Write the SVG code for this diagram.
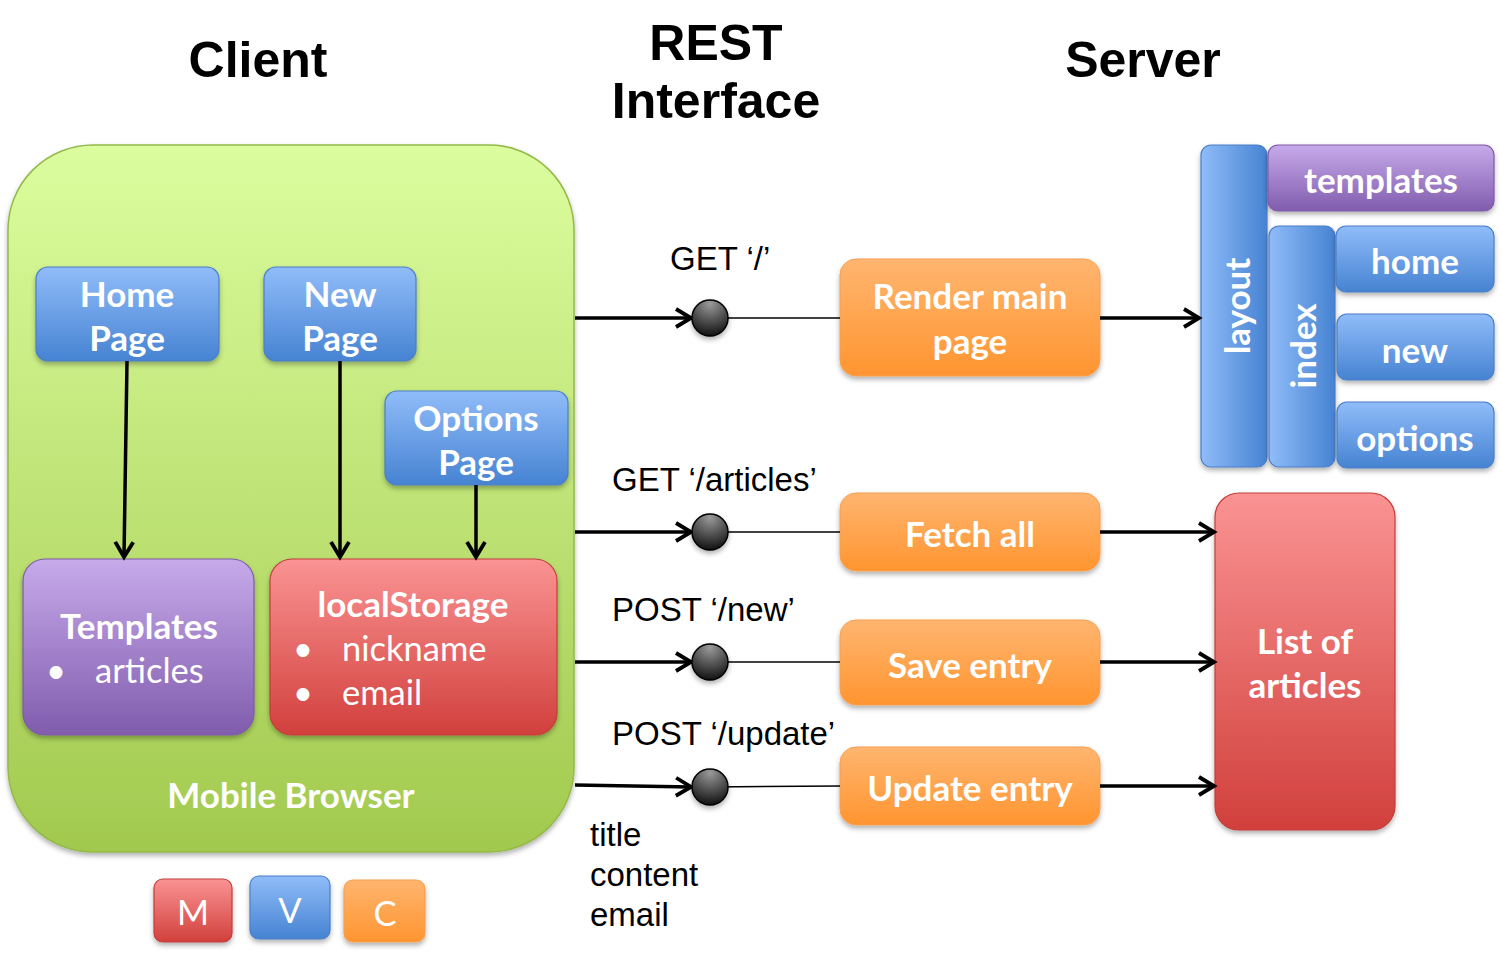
<svg xmlns="http://www.w3.org/2000/svg" width="1502" height="954" viewBox="0 0 1502 954">
<style>
.title{font-family:"Liberation Sans",Arial,sans-serif;font-weight:bold;font-size:50px;fill:#000;text-anchor:middle}
.lbl{font-family:Lato,"Open Sans",sans-serif;font-weight:bold;fill:#fff;text-anchor:middle;font-size:35px}
.reg{font-family:Lato,"Open Sans",sans-serif;fill:#fff;font-size:34.5px}
.rest{font-family:"Liberation Sans",Arial,sans-serif;font-size:33px;fill:#000}
.box{filter:url(#sh)}
.conn{stroke:#000;stroke-width:3.5;fill:none;marker-end:url(#ah)}
.thin{stroke:#000;stroke-width:1.5;fill:none}
</style>
<defs>
<filter id="sh" x="-20%" y="-20%" width="140%" height="150%"><feDropShadow dx="0" dy="3" stdDeviation="2.5" flood-color="#000" flood-opacity="0.3"/></filter>
<linearGradient id="gGreen" x1="0" y1="0" x2="0" y2="1"><stop offset="0" stop-color="#dcfd9e"/><stop offset="1" stop-color="#a2c94e"/></linearGradient>
<linearGradient id="gBlue" x1="0" y1="0" x2="0" y2="1"><stop offset="0" stop-color="#90bcf9"/><stop offset="1" stop-color="#4683d2"/></linearGradient>
<linearGradient id="gBlueH" x1="0" y1="0" x2="1" y2="0"><stop offset="0" stop-color="#90bcf9"/><stop offset="1" stop-color="#4683d2"/></linearGradient>
<linearGradient id="gPurple" x1="0" y1="0" x2="0" y2="1"><stop offset="0" stop-color="#c6aaea"/><stop offset="1" stop-color="#815cae"/></linearGradient>
<linearGradient id="gRed" x1="0" y1="0" x2="0" y2="1"><stop offset="0" stop-color="#fa9393"/><stop offset="1" stop-color="#d1403c"/></linearGradient>
<linearGradient id="gOrange" x1="0" y1="0" x2="0" y2="1"><stop offset="0" stop-color="#ffb570"/><stop offset="1" stop-color="#ff9530"/></linearGradient>
<radialGradient id="gBall" cx="0.5" cy="0.1" r="0.9"><stop offset="0" stop-color="#9a9a9a"/><stop offset="1" stop-color="#111"/></radialGradient>
<marker id="ah" markerUnits="userSpaceOnUse" markerWidth="26" markerHeight="26" viewBox="0 0 26 26" refX="22" refY="13" orient="auto">
<path d="M7,4 L22,13 L7,22" fill="none" stroke="#000" stroke-width="3.8" stroke-linejoin="miter"/>
</marker>
</defs>
<rect width="1502" height="954" fill="#fff"/>

<g id="titles">
<text class="title" x="258" y="77">Client</text>
<text class="title" x="716" y="60">REST</text>
<text class="title" x="716" y="118">Interface</text>
<text class="title" x="1143" y="77">Server</text>
</g>

<g id="mobile-browser">
<rect class="box" x="8" y="145" width="566" height="707" rx="85" fill="url(#gGreen)" stroke="#93b94a" stroke-width="1.5"/>
<text class="lbl" x="291" y="808">Mobile Browser</text>
</g>

<g id="home-page">
<rect class="box" x="36" y="267" width="183" height="94" rx="12" fill="url(#gBlue)" stroke="#4a7fc6" stroke-width="1.2"/>
<text class="lbl" x="127" y="307">Home</text><text class="lbl" x="127" y="351">Page</text>
</g>
<g id="new-page">
<rect class="box" x="264" y="267" width="152" height="94" rx="12" fill="url(#gBlue)" stroke="#4a7fc6" stroke-width="1.2"/>
<text class="lbl" x="340" y="307">New</text><text class="lbl" x="340" y="351">Page</text>
</g>
<g id="options-page">
<rect class="box" x="385" y="391" width="183" height="94" rx="12" fill="url(#gBlue)" stroke="#4a7fc6" stroke-width="1.2"/>
<text class="lbl" x="476" y="431">Options</text><text class="lbl" x="476" y="475">Page</text>
</g>
<g id="templates-client">
<rect class="box" x="23" y="559" width="231" height="176" rx="22" fill="url(#gPurple)" stroke="#7d5aa8" stroke-width="1.2"/>
<text class="lbl" x="139" y="639">Templates</text>
<text class="reg" x="46" y="683">•</text><text class="reg" x="95" y="683">articles</text>
</g>
<g id="localstorage">
<rect class="box" x="270" y="559" width="287" height="176" rx="22" fill="url(#gRed)" stroke="#c43c3c" stroke-width="1.2"/>
<text class="lbl" x="413" y="617">localStorage</text>
<text class="reg" x="293" y="661">•</text><text class="reg" x="342" y="661">nickname</text>
<text class="reg" x="293" y="705">•</text><text class="reg" x="342" y="705">email</text>
</g>

<g id="render-main-page">
<rect class="box" x="840" y="259" width="260" height="117" rx="16" fill="url(#gOrange)" stroke="#f5a050" stroke-width="1"/>
<text class="lbl" x="970" y="309">Render main</text><text class="lbl" x="970" y="354">page</text>
</g>
<g id="fetch-all">
<rect class="box" x="840" y="493" width="260" height="78" rx="16" fill="url(#gOrange)" stroke="#f5a050" stroke-width="1"/>
<text class="lbl" x="970" y="547">Fetch all</text>
</g>
<g id="save-entry">
<rect class="box" x="840" y="620" width="260" height="85" rx="16" fill="url(#gOrange)" stroke="#f5a050" stroke-width="1"/>
<text class="lbl" x="970" y="678">Save entry</text>
</g>
<g id="update-entry">
<rect class="box" x="840" y="747" width="260" height="78" rx="16" fill="url(#gOrange)" stroke="#f5a050" stroke-width="1"/>
<text class="lbl" x="970" y="801">Update entry</text>
</g>

<g id="layout">
<rect class="box" x="1201" y="145" width="66" height="322" rx="10" fill="url(#gBlueH)" stroke="#4a7fc6" stroke-width="1.2"/>
<text class="lbl" transform="translate(1250,306) rotate(-90)">layout</text>
</g>
<g id="templates-server">
<rect class="box" x="1268" y="145" width="226" height="66" rx="10" fill="url(#gPurple)" stroke="#7d5aa8" stroke-width="1.2"/>
<text class="lbl" x="1381" y="193">templates</text>
</g>
<g id="index">
<rect class="box" x="1269" y="226" width="66" height="241" rx="10" fill="url(#gBlueH)" stroke="#4a7fc6" stroke-width="1.2"/>
<text class="lbl" transform="translate(1316,346) rotate(-90)">index</text>
</g>
<g id="home">
<rect class="box" x="1336" y="226" width="158" height="66" rx="10" fill="url(#gBlue)" stroke="#4a7fc6" stroke-width="1.2"/>
<text class="lbl" x="1415" y="274">home</text>
</g>
<g id="new">
<rect class="box" x="1337" y="314" width="157" height="66" rx="10" fill="url(#gBlue)" stroke="#4a7fc6" stroke-width="1.2"/>
<text class="lbl" x="1415" y="363">new</text>
</g>
<g id="options">
<rect class="box" x="1337" y="402" width="157" height="66" rx="10" fill="url(#gBlue)" stroke="#4a7fc6" stroke-width="1.2"/>
<text class="lbl" x="1415" y="451">options</text>
</g>
<g id="list-of-articles">
<rect class="box" x="1215" y="493" width="180" height="337" rx="24" fill="url(#gRed)" stroke="#c43c3c" stroke-width="1.2"/>
<text class="lbl" x="1305" y="654">List of</text><text class="lbl" x="1305" y="698">articles</text>
</g>

<g id="rest-labels">
<text class="rest" x="670" y="270">GET ‘/’</text>
<text class="rest" x="612" y="491">GET ‘/articles’</text>
<text class="rest" x="612" y="621">POST ‘/new’</text>
<text class="rest" x="612" y="745">POST ‘/update’</text>
<text class="rest" x="590" y="846" font-size="30.5">title</text>
<text class="rest" x="590" y="886" font-size="30.5">content</text>
<text class="rest" x="590" y="926" font-size="30.5">email</text>
</g>

<g id="connectors">
<line class="conn" x1="127" y1="361" x2="124" y2="557"/>
<line class="conn" x1="340" y1="361" x2="340" y2="557"/>
<line class="conn" x1="476" y1="485" x2="476" y2="557"/>
<line class="thin" x1="710" y1="318" x2="840" y2="318"/>
<line class="thin" x1="710" y1="532" x2="840" y2="532"/>
<line class="thin" x1="710" y1="662" x2="840" y2="662"/>
<line class="thin" x1="710" y1="787" x2="840" y2="786"/>
<line class="conn" x1="575" y1="318" x2="691" y2="318"/>
<line class="conn" x1="575" y1="532" x2="691" y2="532"/>
<line class="conn" x1="575" y1="662" x2="691" y2="662"/>
<line class="conn" x1="575" y1="785" x2="691" y2="787"/>
<line class="conn" x1="1100" y1="318" x2="1199" y2="318"/>
<line class="conn" x1="1100" y1="532" x2="1214" y2="532"/>
<line class="conn" x1="1100" y1="662" x2="1214" y2="662"/>
<line class="conn" x1="1100" y1="786" x2="1214" y2="786"/>
</g>
<g id="endpoints">
<circle class="box" cx="710" cy="318" r="18" fill="url(#gBall)" stroke="#000" stroke-width="1.5"/>
<circle class="box" cx="710" cy="532" r="18" fill="url(#gBall)" stroke="#000" stroke-width="1.5"/>
<circle class="box" cx="710" cy="662" r="18" fill="url(#gBall)" stroke="#000" stroke-width="1.5"/>
<circle class="box" cx="710" cy="787" r="18" fill="url(#gBall)" stroke="#000" stroke-width="1.5"/>
</g>

<g id="mvc-m">
<rect class="box" x="154" y="879" width="78" height="63" rx="9" fill="url(#gRed)" stroke="#c43c3c" stroke-width="1.2"/>
<text class="reg" x="193" y="925" text-anchor="middle" font-size="32">M</text>
</g>
<g id="mvc-v">
<rect class="box" x="250" y="876" width="80" height="63" rx="9" fill="url(#gBlue)" stroke="#4a7fc6" stroke-width="1.2"/>
<text class="reg" x="290" y="923" text-anchor="middle" font-size="32">V</text>
</g>
<g id="mvc-c">
<rect class="box" x="344" y="880" width="81" height="62" rx="9" fill="url(#gOrange)" stroke="#f5a050" stroke-width="1.2"/>
<text class="reg" x="385" y="926" text-anchor="middle" font-size="32">C</text>
</g>
</svg>
